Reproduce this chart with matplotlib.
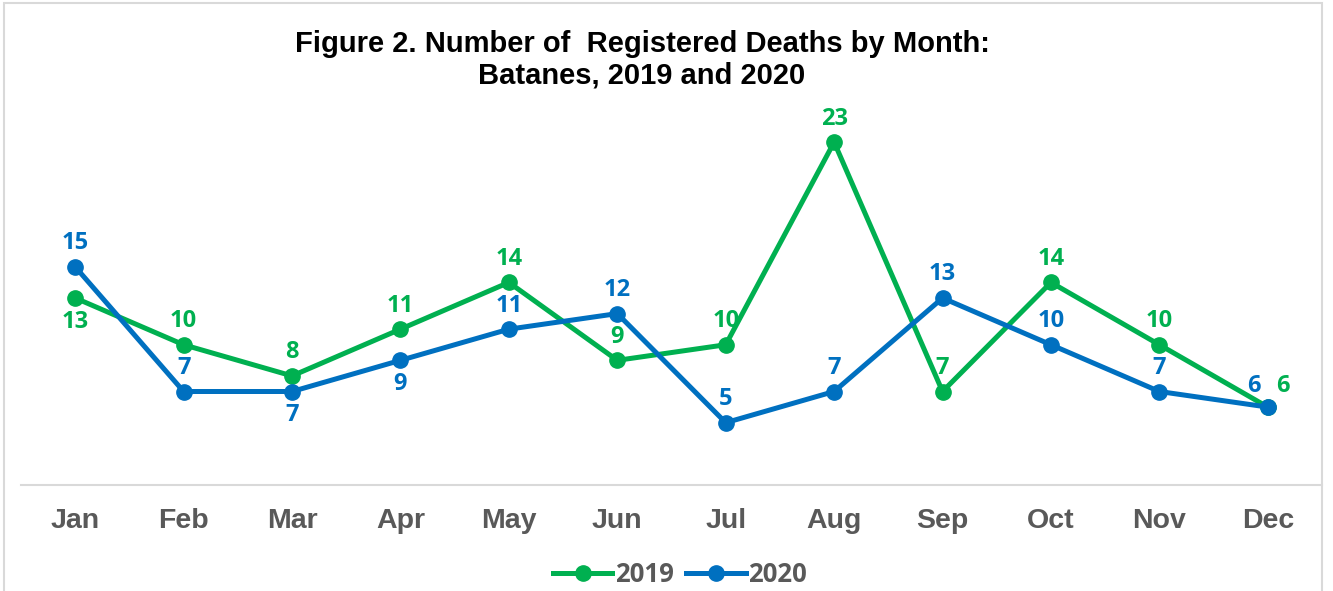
import numpy as np
import matplotlib.pyplot as plt
from matplotlib.patches import Rectangle

#===========================
# DATA
#===========================
months=['Jan','Feb','Mar','Apr','May','Jun','Jul','Aug','Sep','Oct','Nov','Dec']
deaths_2019=[13,10,8,11,14,9,10,23,7,14,10,6]
deaths_2020=[15,7,7,9,11,12,5,7,13,10,7,6]

# label placement: 'a' above, 'b' below, 'r'/'l' shifted sideways
pos_2019=['b','a','a','a','a','a','a','a','a','a','a','r']
pos_2020=['a','a','b','b','a','a','a','a','a','a','a','l']

GREEN='#00B050'
BLUE='#0070C0'
GREY='#595959'

#===========================
# FIGURE
#===========================
fig=plt.figure(figsize=(13.33,5.91),dpi=100)
ax=fig.add_axes([21/1333.,106/591.,1301/1333.,374/591.])

x=np.arange(len(months))
ax.plot(x,deaths_2019,color=GREEN,lw=3.6,marker='o',ms=11,label='2019',zorder=3)
ax.plot(x,deaths_2020,color=BLUE,lw=3.6,marker='o',ms=11,label='2020',zorder=4)

offs={'a':(0,17),'b':(0,-17),'r':(11,15.5),'l':(-10,15.5)}
for vals,pos,col in [(deaths_2019,pos_2019,GREEN),(deaths_2020,pos_2020,BLUE)]:
    for xi,v,p in zip(x,vals,pos):
        ax.annotate(str(v),(xi,v),xytext=offs[p],textcoords='offset points',
                    ha='center',va='center',color=col,fontsize=17,
                    fontweight='bold',family='Open Sans')

ax.set_xlim(-0.5,11.5)
ax.set_ylim(1,25)
ax.set_yticks([])
ax.set_xticks(x)
ax.set_xticklabels(months,fontsize=20.5,fontweight='bold',color=GREY,family='Liberation Sans')
ax.tick_params(axis='x',length=0,pad=16.5)
for s in ['top','right','left']:
    ax.spines[s].set_visible(False)
ax.spines['bottom'].set_color('#D9D9D9')
ax.spines['bottom'].set_linewidth(1.5)

#******* Title ********
fig.text(642/1333.,1-44/591.,'Figure 2. Number of  Registered Deaths by Month:',ha='center',va='center',
         fontsize=21,fontweight='bold',family='Liberation Sans')
fig.text(642/1333.,1-76/591.,'Batanes, 2019 and 2020',ha='center',va='center',
         fontsize=21,fontweight='bold',family='Liberation Sans')

#******* Legend ********
leg=fig.legend(loc='center',bbox_to_anchor=(680/1333.,1-574/591.),ncol=2,frameon=False,
               handlelength=2.3,columnspacing=0.5,handletextpad=0.1,
               prop={'family':'Open Sans','weight':'bold','size':18.5})
for t in leg.get_texts():
    t.set_color(GREY)

#******* Border ********
fig.patches.append(Rectangle((4/1333.,-0.05),1318/1333.,1.05-3/591.,transform=fig.transFigure,
                             fill=False,edgecolor='#D9D9D9',lw=1.5))

fig.savefig('out.png',dpi=100)
